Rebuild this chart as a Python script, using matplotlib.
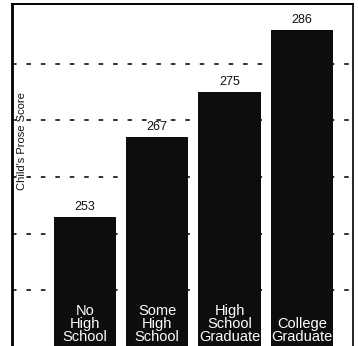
import matplotlib
matplotlib.use("Agg")
import matplotlib.pyplot as plt

categories = ["No\nHigh\nSchool", "Some\nHigh\nSchool", "High\nSchool\nGraduate", "College\nGraduate"]
scores = [253, 267, 275, 286]
gridlines = [240, 250, 260, 270, 280]
y_label = "Child's Prose Score"

plt.rcParams['font.family'] = ['Liberation Sans', 'DejaVu Sans']

fig = plt.figure(figsize=(3.58, 3.46), dpi=100)
ax = fig.add_axes([12/358, 0.0, 341/358, 1 - 4/346])

base = 225
x = list(range(len(categories)))
ax.bar(x, [s - base for s in scores], bottom=base, width=0.86,
       color='#0d0d0d', zorder=3)

for g in gridlines:
    ax.axhline(g, color='#222222', lw=1.3, ls=(0, (2.5, 5.5)), zorder=1)

for xi, s, c in zip(x, scores, categories):
    ax.text(xi, s + 0.7, str(s), ha='center', va='bottom', fontsize=9, color='#111111', zorder=4)
    ax.text(xi, 230.5, c, ha='center', va='bottom', fontsize=10.5,
            color='white', linespacing=0.9, zorder=4)

ax.set_xlim(-1.01, 3.71)
ax.set_ylim(230.1, 290.6)
ax.set_xticks([])
ax.set_yticks([])
ax.spines['bottom'].set_visible(False)
ax.spines['left'].set_linewidth(2.0)
ax.spines['top'].set_linewidth(1.4)
ax.spines['right'].set_linewidth(1.2)

fig.text(22/358, 1 - 141/346, y_label, rotation=90, ha='center', va='center',
         fontsize=8, color='#111111')

fig.savefig("out.png", dpi=100, facecolor='white')
